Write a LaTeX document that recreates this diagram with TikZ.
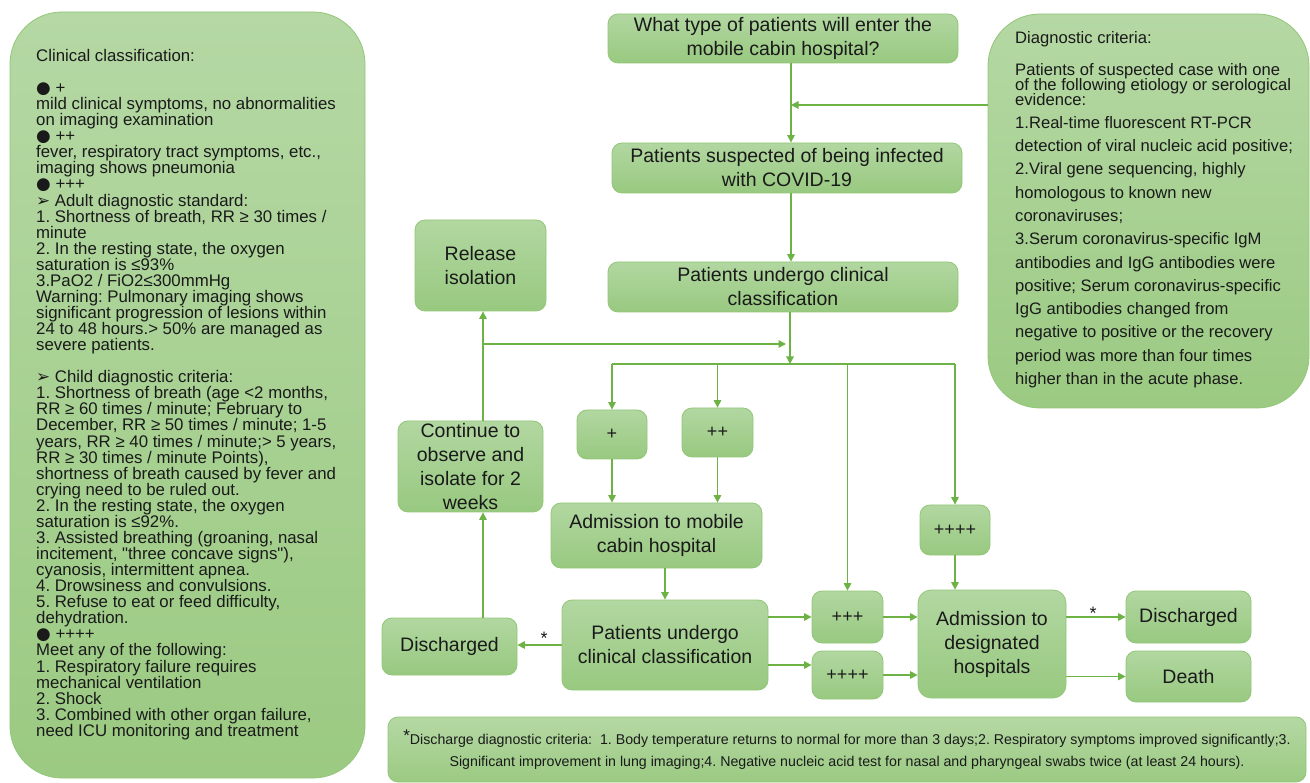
\documentclass[tikz,border=0pt]{standalone}
\usepackage{fontspec}
\setmainfont{Liberation Sans}
\newfontfamily\symbolfont{DejaVu Sans}
\usetikzlibrary{arrows.meta,shadings}

\definecolor{paneltop}{HTML}{B5D8A4}
\definecolor{panelbot}{HTML}{9BCA82}
\definecolor{boxtop}{HTML}{B2D7A1}
\definecolor{boxbot}{HTML}{98C980}
\definecolor{boxline}{HTML}{92C678}
\definecolor{flow}{HTML}{6CB245}
\definecolor{ink}{HTML}{1A1A1A}

\newcommand{\bulletdot}{{\symbolfont ●}}
\newcommand{\bullettip}{{\symbolfont ➢}}
\newcommand{\tightlines}{\lineskiplimit=-20pt\relax}

\begin{document}
\frenchspacing
\begin{tikzpicture}[x=1pt, y=-1pt,
  panel/.style={draw=boxline, line width=0.8pt, top color=paneltop, bottom color=panelbot, rounded corners=52pt, inner sep=0pt},
  box/.style={draw=boxline, line width=0.8pt, top color=boxtop, bottom color=boxbot, rounded corners=10pt, align=center, inner sep=0pt, text=ink, font=\fontsize{19.5}{24}\selectfont},
  tag/.style={box, font=\fontsize{18}{20}\selectfont},
  arr/.style={draw=flow, line width=1.4pt, -{Triangle[length=7.5pt,width=7.5pt]}},
  link/.style={draw=flow, line width=1.4pt}]
  \useasboundingbox (0,0) rectangle (1310,783);

  \node[panel, minimum width=355, minimum height=766] (cls) at (187.5,395) {};
  \node[panel, minimum width=321, minimum height=394] (crit) at (1148.5,211) {};
  \node[panel, rounded corners=10pt, minimum width=918, minimum height=65] (note) at (847,749.5) {};

  \node[anchor=north west, inner sep=0pt, align=left, text=ink, font=\fontsize{16.8}{16.07}\selectfont\tightlines] (clstext) at (36,49) {Clinical classification:\\[16.07pt]
    \bulletdot\ +\\
    mild clinical symptoms, no abnormalities\\
    on imaging examination\\
    \bulletdot\ ++\\
    fever, respiratory tract symptoms, etc.,\\
    imaging shows pneumonia\\
    \bulletdot\ +++\\
    \bullettip\ Adult diagnostic standard:\\
    1. Shortness of breath, RR ≥ 30 times /\\
    minute\\
    2. In the resting state, the oxygen\\
    saturation is ≤93\%\\
    3.PaO2 / FiO2≤300mmHg\\
    Warning: Pulmonary imaging shows\\
    significant progression of lesions within\\
    24 to 48 hours.> 50\% are managed as\\
    severe patients.\\[16.07pt]
    \bullettip\ Child diagnostic criteria:\\
    1. Shortness of breath (age <2 months,\\
    RR ≥ 60 times / minute; February to\\
    December, RR ≥ 50 times / minute; 1-5\\
    years, RR ≥ 40 times / minute;> 5 years,\\
    RR ≥ 30 times / minute Points),\\
    shortness of breath caused by fever and\\
    crying need to be ruled out.\\
    2. In the resting state, the oxygen\\
    saturation is ≤92\%.\\
    3. Assisted breathing (groaning, nasal\\
    incitement, \textquotedbl three concave signs\textquotedbl),\\
    cyanosis, intermittent apnea.\\
    4. Drowsiness and convulsions.\\
    5. Refuse to eat or feed difficulty,\\
    dehydration.\\
    \bulletdot\ ++++\\
    Meet any of the following:\\
    1. Respiratory failure requires\\
    mechanical ventilation\\
    2. Shock\\
    3. Combined with other organ failure,\\
    need ICU monitoring and treatment};

  \node[anchor=north west, inner sep=0pt, align=left, text=ink, font=\fontsize{16.6}{15}\selectfont\tightlines] (crittext) at (1015,31) {Diagnostic criteria:\\[17pt]
    Patients of suspected case with one\\
    of the following etiology or serological\\
    evidence:\\[8pt]
    1.Real-time fluorescent RT-PCR\\[8.3pt]
    detection of viral nucleic acid positive;\\[8.3pt]
    2.Viral gene sequencing, highly\\[8.3pt]
    homologous to known new\\[8.3pt]
    coronaviruses;\\[8.3pt]
    3.Serum coronavirus-specific IgM\\[8.3pt]
    antibodies and IgG antibodies were\\[8.3pt]
    positive; Serum coronavirus-specific\\[8.3pt]
    IgG antibodies changed from\\[8.3pt]
    negative to positive or the recovery\\[8.3pt]
    period was more than four times\\[8.3pt]
    higher than in the acute phase.};

  \node[align=center, inner sep=0pt, text=ink, font=\fontsize{14.2}{22}\selectfont] (notetext) at (note.center) {\raisebox{3pt}{\fontsize{17}{17}\selectfont *}Discharge diagnostic criteria:\ \ 1. Body temperature returns to normal for more than 3 days;2. Respiratory symptoms improved significantly;3.\\
    Significant improvement in lung imaging;4. Negative nucleic acid test for nasal and pharyngeal swabs twice (at least 24 hours).};

  \node[box, minimum width=350, minimum height=49] (q) at (783,38.5) {What type of patients will enter the\\mobile cabin hospital?};
  \node[box, minimum width=350, minimum height=50] (s) at (787,168) {Patients suspected of being infected\\with COVID-19};
  \node[box, minimum width=350, minimum height=50] (c1) at (783,287) {Patients undergo clinical\\classification};
  \node[box, minimum width=131, minimum height=91] (rel) at (480.5,265.5) {Release\\isolation};
  \node[box, minimum width=145, minimum height=91] (cont) at (470.5,466.5) {Continue to\\observe and\\isolate for 2\\weeks};
  \node[tag, minimum width=70, minimum height=49] (p1) at (612,434.5) {+};
  \node[tag, minimum width=71, minimum height=49] (p2) at (717.5,432.5) {++};
  \node[box, minimum width=211, minimum height=65] (mob) at (656.5,535.5) {Admission to mobile\\cabin hospital};
  \node[box, minimum width=206, minimum height=90] (c2) at (665,645) {Patients undergo\\clinical classification};
  \node[box, minimum width=135, minimum height=57] (dl) at (449.5,646.5) {Discharged};
  \node[tag, minimum width=71, minimum height=52] (p3) at (847.5,617) {+++};
  \node[tag, minimum width=71, minimum height=48] (p4) at (847.5,675) {++++};
  \node[tag, minimum width=70, minimum height=50] (p4u) at (955,530) {++++};
  \node[box, minimum width=148, minimum height=108, rounded corners=13pt] (hosp) at (992,644) {Admission to\\designated\\hospitals};
  \node[box, minimum width=125, minimum height=52] (dr) at (1188.5,617) {Discharged};
  \node[box, minimum width=125, minimum height=51] (death) at (1188.5,676.5) {Death};

  \node[text=ink, font=\fontsize{18}{18}\selectfont] (st1) at (544,638) {*};
  \node[text=ink, font=\fontsize{18}{18}\selectfont] (st2) at (1093,613) {*};

  \coordinate (spine) at (791,105);
  \coordinate (fork) at (790,364);
  \coordinate (forkl) at (612,364);
  \coordinate (forkr) at (955,364);
  \coordinate (back) at (483,344);
  \coordinate (backend) at (786,344);
  \coordinate (low) at (768,665);

  \draw[arr] (q.south -| spine) -- (s.north -| spine);
  \draw[arr] (crit.west |- spine) -- (spine);
  \draw[arr] (s.south -| spine) -- (c1.north -| spine);
  \draw[arr] (c1.south -| fork) -- (fork);
  \draw[link] (forkl) -- (forkr);
  \draw[arr] (forkl) -- (p1.north);
  \draw[arr] (p2.north |- fork) -- (p2.north);
  \draw[arr] (p3.north |- fork) -- (p3.north);
  \draw[arr] (forkr) -- (p4u.north);
  \draw[arr] (p1.south) -- (p1.south |- mob.north);
  \draw[arr] (p2.south) -- (p2.south |- mob.north);
  \draw[arr] (c2.north |- mob.south) -- (c2.north);
  \draw[arr] (c2.west) -- (c2.west -| dl.east);
  \draw[arr] (dl.north -| back) -- (cont.south -| back);
  \draw[arr] (cont.north -| back) -- (rel.south -| back);
  \draw[arr] (back) -- (backend);
  \draw[arr] (c2.east |- p3) -- (p3.west);
  \draw[arr] (c2.east |- low) -- (p4.west |- low);
  \draw[arr] (p3.east) -- (p3.east -| hosp.west);
  \draw[arr] (p4.east) -- (p4.east -| hosp.west);
  \draw[arr] (p4u.south) -- (p4u.south |- hosp.north);
  \draw[arr] (hosp.east |- dr) -- (dr.west);
  \draw[arr] (hosp.east |- death) -- (death.west);
\end{tikzpicture}
\end{document}
